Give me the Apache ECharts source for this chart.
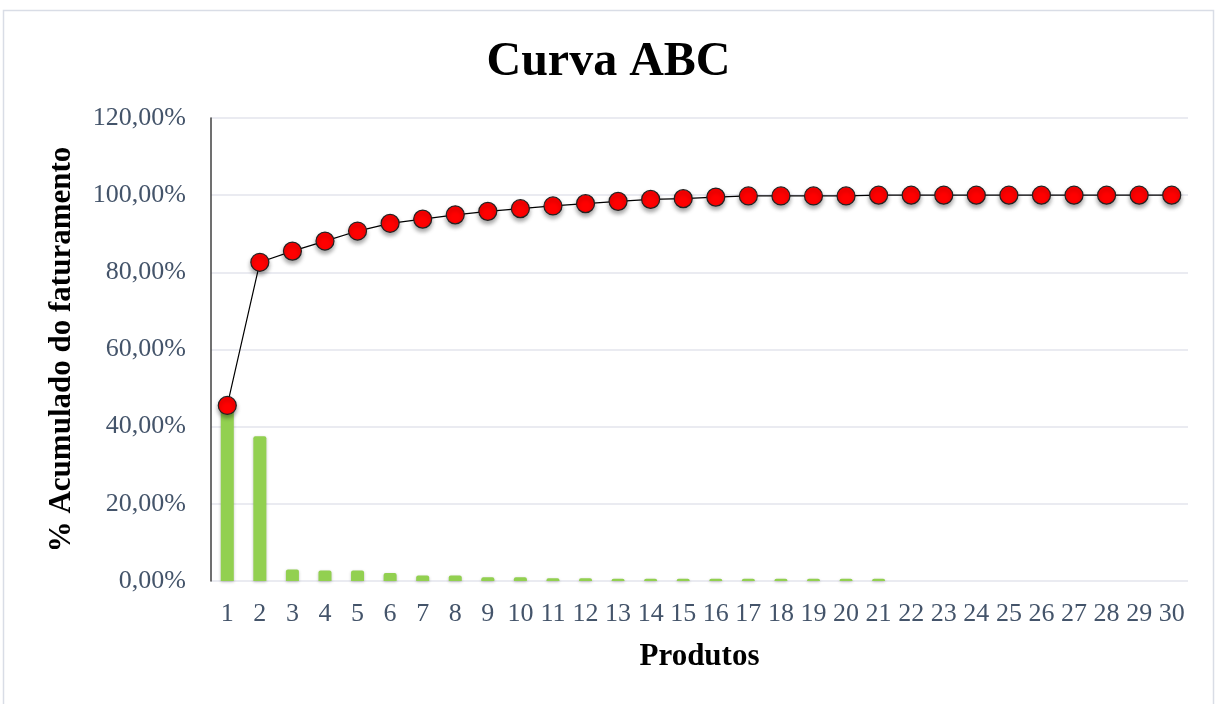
<!DOCTYPE html>
<html><head><meta charset="utf-8">
<script src="https://cdn.jsdelivr.net/npm/echarts@6/dist/echarts.min.js"></script>
<style>html,body{margin:0;padding:0;background:#fff}#c{width:1217px;height:704px}</style>
</head><body><div id="c"></div>
<script>
const categories = ['1','2','3','4','5','6','7','8','9','10','11','12','13','14','15','16','17','18','19','20','21','22','23','24','25','26','27','28','29','30'];
const barValues = [45.5,37.5,3.0,2.7,2.7,2.1,1.4,1.4,1.0,1.0,0.7,0.7,0.6,0.6,0.6,0.6,0.6,0.6,0.6,0.6,0.6,0,0,0,0,0,0,0,0,0];
const cumValues = [45.5,82.6,85.5,88.1,90.7,92.7,93.8,94.9,95.8,96.5,97.2,97.8,98.4,98.9,99.1,99.5,99.8,99.8,99.8,99.8,100,100,100,100,100,100,100,100,100,100];
const yTicks = [0,20,40,60,80,100,120];

const chart = echarts.init(document.getElementById('c'));
const serif = '"Liberation Serif","Times New Roman",serif';
chart.setOption({
  backgroundColor: '#fff',
  graphic: [{type:'rect', shape:{x:3.5,y:10.5,width:1210,height:700}, style:{fill:'none', stroke:'#d9dde6', lineWidth:1.5}, z:-1}],
  title: {text:'Curva ABC', left:'center', top:34, textStyle:{fontFamily:serif, fontSize:48, fontWeight:'bold', color:'#000'}},
  grid: {left:211, right:29, top:118, bottom:123},
  xAxis: {type:'category', data:categories, boundaryGap:true,
    name:'Produtos', nameLocation:'middle', nameGap:60,
    nameTextStyle:{fontFamily:serif, fontSize:31, fontWeight:'bold', color:'#000'},
    axisLine:{show:false}, axisTick:{show:false},
    axisLabel:{fontFamily:serif, fontSize:26, color:'#44546a', margin:20, interval:0}},
  yAxis: {type:'value', min:0, max:120, interval:20,
    name:'% Acumulado do faturamento', nameLocation:'middle', nameGap:134, nameRotate:90,
    nameTextStyle:{fontFamily:serif, fontSize:31, fontWeight:'bold', color:'#000'},
    axisLine:{show:true, lineStyle:{color:'#404040', width:1.5}}, axisTick:{show:false},
    splitLine:{lineStyle:{color:'#e3e5ec', width:1.5}},
    axisLabel:{fontFamily:serif, fontSize:26, color:'#44546a', margin:25,
      formatter: v => yTicks.includes(v) ? v.toFixed(2).replace('.', ',') + '%' : ''}},
  series: [
    {type:'bar', data:barValues, barWidth:13, itemStyle:{color:'#92d050', borderRadius:[2,2,0,0], shadowColor:'rgba(0,0,0,0.25)', shadowBlur:3, shadowOffsetY:1}, z:2},
    {type:'line', data:cumValues, symbol:'circle', symbolSize:18,
      lineStyle:{color:'#000', width:1.2},
      itemStyle:{color:'#ff0000', borderColor:'#222', borderWidth:1.2, shadowColor:'rgba(0,0,0,0.35)', shadowBlur:4, shadowOffsetY:3},
      z:3}
  ]
});
</script></body></html>
